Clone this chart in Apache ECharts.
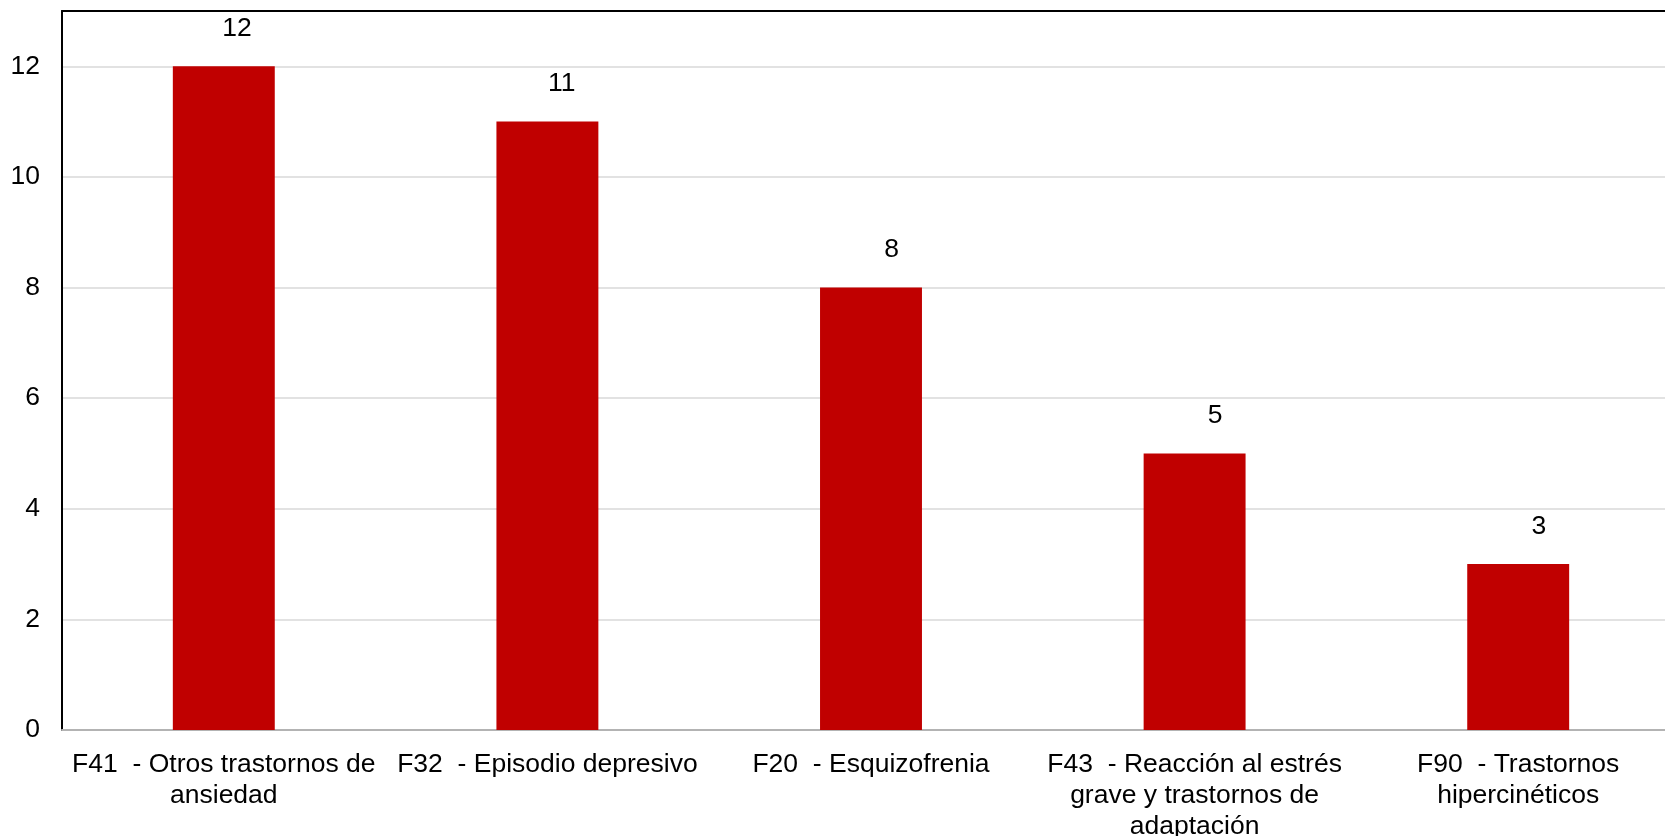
<!DOCTYPE html>
<html>
<head>
<meta charset="utf-8">
<script src="https://cdn.jsdelivr.net/npm/echarts@6/dist/echarts.min.js"></script>
<style>
html,body{margin:0;padding:0;background:#fff;}
#chart{width:1665px;height:836px;}
</style>
</head>
<body>
<div id="chart"></div>
<script>
const categories = [
  "F41  - Otros trastornos de\nansiedad",
  "F32  - Episodio depresivo",
  "F20  - Esquizofrenia",
  "F43  - Reacción al estrés\ngrave y trastornos de\nadaptación",
  "F90  - Trastornos\nhipercinéticos"
];
const values = [12, 11, 8, 5, 3];

const font = '"Liberation Sans", Arial, sans-serif';
const chart = echarts.init(document.getElementById('chart'));
chart.setOption({
  animation: false,
  backgroundColor: '#fff',
  grid: { left: 62, top: 11, width: 1618, bottom: 106, containLabel: false, outerBoundsMode: 'none' },
  xAxis: [{
    type: 'category',
    data: categories,
    position: 'bottom',
    axisLine: { show: true, lineStyle: { color: '#b3b3b3', width: 2 } },
    axisTick: { show: false },
    axisLabel: { interval: 0, fontSize: 26.5, lineHeight: 31, color: '#000', fontFamily: font, margin: 19, align: 'center' }
  }, {
    type: 'category',
    data: categories,
    position: 'top',
    axisLine: { show: true, lineStyle: { color: '#000', width: 2 } },
    axisTick: { show: false },
    axisLabel: { show: false }
  }],
  yAxis: {
    type: 'value',
    min: 0, max: 13, interval: 2,
    axisLine: { show: true, lineStyle: { color: '#000', width: 2 } },
    axisTick: { show: false },
    axisLabel: { showMaxLabel: false, fontSize: 26.5, color: '#000', fontFamily: font, margin: 22 },
    splitLine: { show: true, lineStyle: { color: '#d9d9d9', width: 1.5 } }
  },
  series: [{
    type: 'bar',
    data: values,
    barWidth: '31.5%',
    itemStyle: { color: '#C00000' },
    label: { show: true, position: 'top', distance: 24, align: 'right', offset: [28, 0], fontSize: 26.5, color: '#000', fontFamily: font }
  }]
});
</script>
</body>
</html>
